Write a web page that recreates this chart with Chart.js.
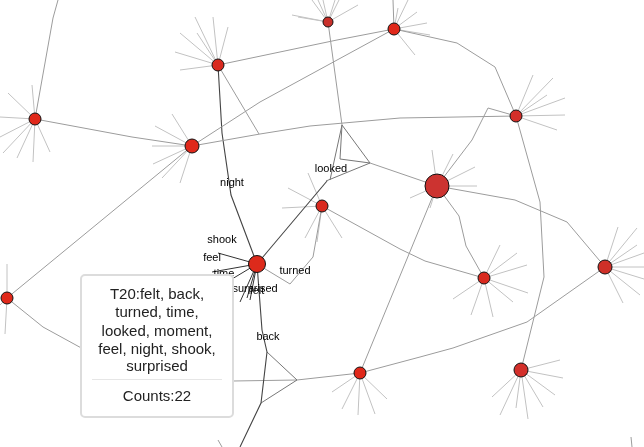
<!DOCTYPE html>
<html lang="en">
<head>
    <meta charset="UTF-8">
    <title>Topic network</title>
    <script src="https://cdn.jsdelivr.net/npm/chart.js"></script>
    <style>
        body { margin:0; background:#fff; }
        #wrap { width:644px; height:447px; }
    </style>
</head>
<body>
<div id="wrap"><canvas id="netChart"></canvas></div>
<script>
// topic nodes (index 8 is T20, the selected one)
const nodeX = [35, 192, 218, 328, 394, 516, 437, 322, 257, 484, 605, 7, 360, 521];
const nodeY = [119, 146, 65, 22, 29, 116, 186, 206, 264, 278, 267, 298, 373, 370];
const nodeSize = [6, 7, 6, 5, 6, 6, 12, 6, 8.5, 6, 7, 6, 6, 7];
const nodeFill = ['#e0281a','#e0281a','#d9291e','#c9302a','#e0281a','#d32f2a','#cc3330','#d9291e','#dd2a1b','#d9291e','#cf3028','#e0281a','#e0281a','#d32f2a'];

// links between topics, as polylines
const edgePaths = [
  [[35,119],[53,18],[58,0]],
  [[35,119],[132,137],[192,146]],
  [[192,146],[260,102],[394,29]],
  [[192,146],[260,134],[310,126],[400,118],[516,116]],
  [[192,146],[7,298]],
  [[218,65],[222,133],[231,195],[257,264]],
  [[218,65],[259,134]],
  [[218,65],[337,40],[394,29]],
  [[328,22],[342,125]],
  [[342,125],[370,163]],
  [[342,125],[340,159],[370,163]],
  [[342,125],[330,180]],
  [[370,163],[326,181]],
  [[327,181],[257,264]],
  [[370,163],[437,186]],
  [[394,29],[393,0]],
  [[394,29],[457,43],[495,67],[516,116]],
  [[516,116],[540,202],[544,277],[521,370]],
  [[360,373],[420,357],[453,348],[527,322],[605,267]],
  [[437,186],[472,140],[488,108],[516,116]],
  [[437,186],[515,200],[567,222],[605,267]],
  [[437,186],[459,216],[466,246],[484,278]],
  [[437,186],[360,373]],
  [[322,206],[400,249],[425,261],[484,278]],
  [[257,264],[290,284],[313,257],[322,206]],
  [[257,264],[262,330],[267,352],[261,403],[240,447]],
  [[267,352],[297,380],[261,403]],
  [[297,380],[360,373]],
  [[7,298],[43,327],[85,350],[160,376],[233,381],[297,380]],
  [[218,440],[222,447]],
  [[631,437],[632,447]]
];
const highlightedEdges = [5, 13, 25];
const triangleEdges = [9, 10, 11, 12, 26];

// term spokes, end points per node
const spokeEnds = [
  [[0,117],[8,93],[32,85],[0,137],[3,153],[17,158],[33,162],[50,152]],
  [[172,114],[155,126],[152,146],[153,164],[162,178],[180,183]],
  [[195,17],[213,17],[228,27],[180,33],[197,33],[175,52],[180,70]],
  [[312,0],[318,0],[323,0],[335,0],[339,0],[358,5],[292,15],[298,17]],
  [[408,0],[417,12],[427,23],[430,35],[415,55],[398,8]],
  [[533,75],[553,78],[547,95],[565,98],[565,115],[557,130]],
  [[432,150],[453,154],[475,167],[477,186],[410,198],[430,208]],
  [[288,188],[308,173],[282,208],[305,238],[317,242],[342,238]],
  [[218,253],[212,272],[232,279],[240,302],[250,300],[247,298]],
  [[500,245],[517,253],[527,265],[528,293],[513,302],[493,317],[471,315],[453,299]],
  [[618,227],[637,228],[637,245],[644,253],[644,267],[644,279],[640,295],[623,303]],
  [[7,264],[5,334],[0,305]],
  [[332,392],[342,409],[358,415],[375,414],[387,399]],
  [[560,360],[563,378],[555,395],[543,407],[528,419],[516,408],[500,415],[492,397]]
];

// term labels round T20
const termWords = ['night', 'looked', 'shook', 'feel', 'time', 'turned', 'surprised', 'felt', 'back'];
const termX = [232, 331, 222, 212, 224, 295, 255, 257, 268];
const termY = [183, 169, 240, 258, 274, 271, 289, 291, 337];

const topicLines = ['T20:felt, back,', 'turned, time,', 'looked, moment,', 'feel, night, shook,', 'surprised'];
const topicCount = 22;

const toPts = arr => arr.map(p => ({x: p[0], y: p[1]}));

var datasets = [];
edgePaths.forEach(function(path, i){
  var col = '#9c9c9c', w = 1;
  if (highlightedEdges.indexOf(i) >= 0) { col = '#444'; w = 1.1; }
  else if (triangleEdges.indexOf(i) >= 0) { col = '#777'; }
  datasets.push({
    type: 'line', data: toPts(path), borderColor: col, borderWidth: w,
    pointRadius: 0, fill: false, tension: 0, order: 3, clip: false
  });
});
spokeEnds.forEach(function(ends, n){
  ends.forEach(function(e){
    datasets.push({
      type: 'line', data: toPts([[nodeX[n], nodeY[n]], e]),
      borderColor: n === 8 ? '#333' : '#c2c2c2', borderWidth: 1,
      pointRadius: 0, fill: false, order: 4, clip: false
    });
  });
});
datasets.push({
  type: 'scatter',
  data: nodeX.map((x, i) => ({x: x, y: nodeY[i]})),
  pointRadius: nodeSize,
  pointBackgroundColor: nodeFill,
  pointBorderColor: '#111',
  pointBorderWidth: 1,
  order: 0, clip: false
});

const overlay = {
  id: 'overlay',
  afterDatasetsDraw(chart) {
    const ctx = chart.ctx, sx = chart.scales.x, sy = chart.scales.y;
    ctx.save();
    ctx.font = '11px "Liberation Sans", Arial, sans-serif';
    ctx.fillStyle = '#000';
    ctx.textAlign = 'center';
    ctx.textBaseline = 'middle';
    termWords.forEach(function(w, i){
      ctx.fillText(w, sx.getPixelForValue(termX[i]), sy.getPixelForValue(termY[i]));
    });

    // info box for the selected topic
    var bx = 81, by = 275, bw = 152, bh = 142;
    ctx.beginPath();
    ctx.roundRect(bx, by, bw, bh, 4);
    ctx.fillStyle = '#fff';
    ctx.fill();
    ctx.lineWidth = 2;
    ctx.strokeStyle = '#dcdcdc';
    ctx.stroke();
    ctx.fillStyle = '#222';
    ctx.font = '15px "Liberation Sans", Arial, sans-serif';
    var lineY = [20, 38, 57, 75, 92];
    topicLines.forEach(function(t, i){
      ctx.fillText(t, bx + bw/2, by + lineY[i]);
    });
    ctx.beginPath();
    ctx.moveTo(bx + 11, by + 104.5);
    ctx.lineTo(bx + bw - 11, by + 104.5);
    ctx.lineWidth = 1;
    ctx.strokeStyle = '#e6e6e6';
    ctx.stroke();
    ctx.fillStyle = '#222';
    ctx.fillText('Counts:' + topicCount, bx + bw/2, by + 122);
    ctx.restore();
  }
};

var netChart = new Chart(document.getElementById('netChart'), {
  type: 'scatter',
  data: { datasets: datasets },
  options: {
    responsive: true,
    maintainAspectRatio: false,
    animation: false,
    events: [],
    layout: { padding: 0, autoPadding: false },
    scales: {
      x: { type: 'linear', min: 0, max: 644, display: false },
      y: { type: 'linear', min: 0, max: 447, reverse: true, display: false }
    },
    plugins: { legend: { display: false }, tooltip: { enabled: false } }
  },
  plugins: [overlay]
});
</script>
</body>
</html>
